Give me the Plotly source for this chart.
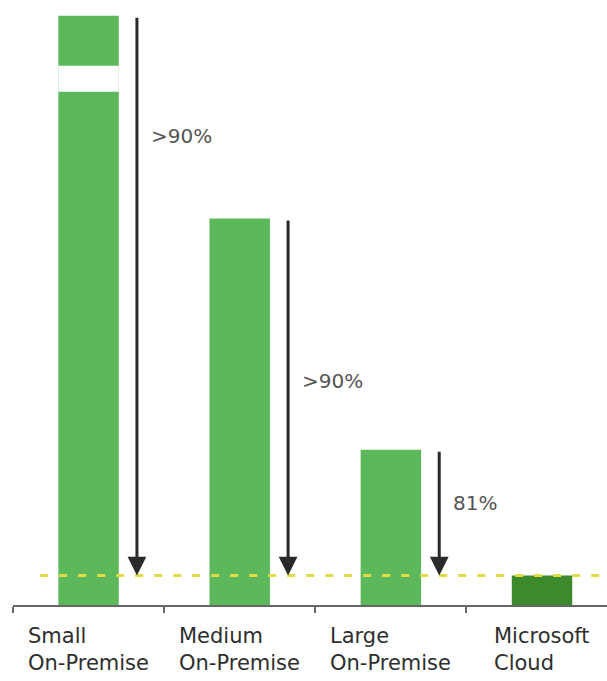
import plotly.graph_objects as go

# Relative energy use per user (Microsoft Cloud = 1.0)
categories = ["Small On-Premise", "Medium On-Premise", "Large On-Premise", "Microsoft Cloud"]
category_labels = ["Small<br>On-Premise", "Medium<br>On-Premise", "Large<br>On-Premise", "Microsoft<br>Cloud"]
relative_use = [30.0, 13.1, 5.26, 1.0]

# Broken value axis: the span between BREAK_LO and BREAK_HI is hidden,
# and a white gap of GAP units marks the cut on the tallest bar.
BREAK_LO = 17.4
BREAK_HI = 28.3
GAP = 0.88


def to_axis(v):
    return v if v <= BREAK_LO else v - (BREAK_HI - BREAK_LO) + GAP


cloud = relative_use[-1]
on_prem = relative_use[:-1]
savings = [1 - cloud / v for v in on_prem]
savings_text = [">90%" if s > 0.9 else f"{s:.0%}" for s in savings]

# vertical placement of each savings label (axis units)
savings_label_y = [15.9, 7.6, 3.45]

LIGHT_GREEN = "#5cb85a"
DARK_GREEN = "#3c8a2c"
bar_colors = [LIGHT_GREEN] * 3 + [DARK_GREEN]

fig = go.Figure()
fig.add_trace(go.Bar(
    x=categories,
    y=[to_axis(v) for v in relative_use],
    width=0.4,
    marker=dict(color=bar_colors, line=dict(width=0)),
    hoverinfo="skip",
    showlegend=False,
))

# cut mark on the broken bar
fig.add_shape(type="rect", xref="x", yref="y",
              x0=-0.2, x1=0.2, y0=BREAK_LO, y1=BREAK_LO + GAP,
              fillcolor="white", line=dict(width=0), layer="above")

# cloud reference level
fig.add_shape(type="line", xref="x", yref="y",
              x0=-0.32, x1=3.43, y0=to_axis(cloud), y1=to_axis(cloud),
              line=dict(color="#e0dc48", width=3, dash="8px,11px"), layer="above")

ARROW_DX = 0.32
annotations = []
for i, v in enumerate(on_prem):
    xa = i + ARROW_DX
    annotations.append(dict(
        x=xa, y=to_axis(cloud), xref="x", yref="y",
        ax=xa, ay=to_axis(v), axref="x", ayref="y",
        text=" ", font=dict(size=1),
        showarrow=True, arrowhead=2, arrowsize=1.25, arrowwidth=3,
        arrowcolor="#2a2a2a", standoff=0, startstandoff=0,
    ))
    annotations.append(dict(
        x=xa, y=savings_label_y[i], xref="x", yref="y",
        text=savings_text[i], showarrow=False,
        xanchor="left", yanchor="middle", xshift=12,
        font=dict(family="DejaVu Sans", size=20, color="#555555"),
    ))

for i, lab in enumerate(category_labels):
    annotations.append(dict(
        x=i, y=0, xref="x", yref="paper",
        text=lab, showarrow=False, align="left",
        xanchor="center", yanchor="top", yshift=-17,
        font=dict(family="DejaVu Sans", size=21, color="#2e2e2e"),
    ))

fig.update_layout(
    width=607, height=681,
    margin=dict(l=13, r=0, t=0, b=76),
    paper_bgcolor="white", plot_bgcolor="white",
    bargap=0.6,
    annotations=annotations,
    xaxis=dict(
        type="category", range=[-0.5, 3.43],
        showline=True, linecolor="#666666", linewidth=2,
        ticks="outside", tickson="boundaries", ticklen=6,
        tickcolor="#666666", tickwidth=2,
        showgrid=False, showticklabels=False, zeroline=False,
    ),
    yaxis=dict(visible=False, range=[0, 20.51], fixedrange=True),
)

fig.write_html("out.html")
